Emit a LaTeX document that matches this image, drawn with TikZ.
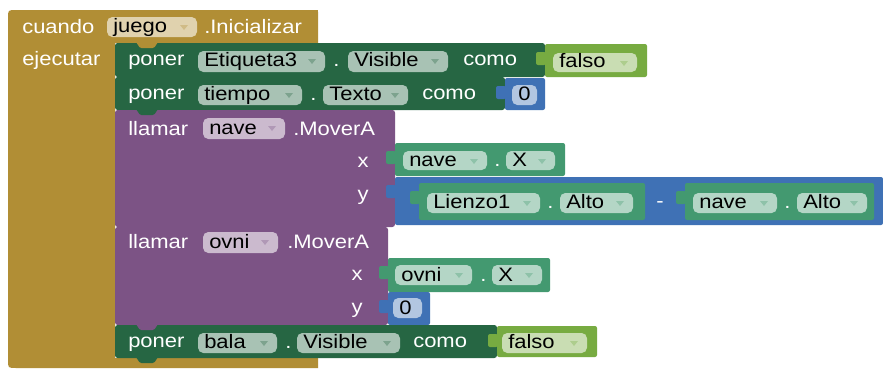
\documentclass[tikz,border=0pt]{standalone}
\usepackage{fontspec}
\setmainfont{Liberation Sans}[FakeStretch=1.13]
\definecolor{ev}{HTML}{B18E35}
\definecolor{setc}{HTML}{266643}
\definecolor{getc}{HTML}{439970}
\definecolor{logc}{HTML}{77AB41}
\definecolor{mathc}{HTML}{3F71B5}
\definecolor{meth}{HTML}{7C5385}
\tikzset{
  lbl/.style={text=white, inner sep=0pt, anchor=base west},
  clbl/.style={text=white, inner sep=0pt, anchor=base},
  ptxt/.style={text=black, inner sep=0pt, anchor=base west},
  stm/.style={rounded corners=2pt},
  vbody/.style={rounded corners=1.5pt},
}
% name, x1, x2, top, bottom, baseline, text, colour
\newcommand\pill[8]{%
  \fill[#8!40!white, rounded corners=4pt] (#2,#4) rectangle (#3,#5);
  \node[ptxt] (#1) at (#2+6,#6) {#7};
  \fill[#8!60!white] (#3-17,#4+8) -- (#3-9,#4+8) -- (#3-13,#4+13) -- cycle;}
\newcommand\numpill[8]{%
  \fill[#8!40!white, rounded corners=4pt] (#2,#4) rectangle (#3,#5);
  \node[ptxt] (#1) at (#2+6,#6) {#7};}
% x, top, colour
\newcommand\vtab[3]{%
  \fill[#3, rounded corners=1.5pt] (#1+1,#2+8) -- (#1-9,#2+8) -- (#1-9,#2+21) -- (#1+1,#2+21) -- cycle;}
% bottom y, colour
\newcommand\stab[2]{%
  \fill[#2, rounded corners=1pt] (136,#1-1) -- (140,#1+5) -- (154,#1+5) -- (158,#1-1) -- cycle;}
\begin{document}
\begin{tikzpicture}[x=0.75pt,y=-0.75pt]
\fontsize{14.6}{17}\selectfont
\useasboundingbox (0,0) rectangle (883,371);
\fill[white] (0,0) rectangle (883,371);
% event block
\fill[ev] (8,360) -- (8,18) .. controls (8,10) .. (16,10) -- (316,10) .. controls (318,10) .. (318,12)
  -- (318,43) -- (115,43) -- (115,358) -- (318,358) -- (318,368) -- (16,368) .. controls (8,368) .. (8,360) -- cycle;
\node[lbl] (cuando) at (22,33) {cuando};
\pill{juego}{107}{197}{17}{37}{32}{juego}{ev}
\node[lbl] (init) at (204,33) {.Inicializar};
\node[lbl] (ejec) at (22,65) {ejecutar};
% poner 1
\fill[setc, stm] (115,43) rectangle (545,77);
\node[lbl] (poner1) at (128,65) {poner};
\pill{etq}{198}{325}{51}{72}{66}{Etiqueta3}{setc}
\node[lbl] (dot1) at (333,66) {.};
\pill{vis1}{348}{448}{51}{72}{66}{Visible}{setc}
\node[lbl] (como1) at (463,65) {como};
\fill[logc, vbody] (545,44) rectangle (647,77);
\vtab{545}{44}{logc}
\pill{falso1}{553}{637}{53}{72}{67}{falso}{logc}
% poner 2
\fill[setc, stm] (115,77) rectangle (505,110);
\node[lbl] (poner2) at (128,99) {poner};
\pill{tiempo}{198}{302}{85}{105}{100}{tiempo}{setc}
\node[lbl] (dot2) at (310,100) {.};
\pill{texto}{323}{408}{85}{105}{100}{Texto}{setc}
\node[lbl] (como2) at (422,99) {como};
\fill[mathc, vbody] (505,78) rectangle (545,110);
\vtab{505}{78}{mathc}
\numpill{cero1}{512}{537}{85}{105}{100}{0}{mathc}
% llamar nave
\fill[meth, stm] (115,110) rectangle (395,227);
\node[lbl] (llamar1) at (128,135) {llamar};
\pill{nave1}{203}{285}{118}{139}{134}{nave}{meth}
\node[lbl] (mov1) at (293,135) {.MoverA};
\node[clbl] (x1) at (363,167) {x};
\node[clbl] (y1) at (363,200) {y};
\fill[getc, vbody] (395,143) rectangle (565,176);
\vtab{395}{143}{getc}
\pill{nave2}{403}{487}{151}{170}{166}{nave}{getc}
\node[lbl] (dot3) at (494,166) {.};
\pill{xx1}{506}{555}{151}{170}{166}{X}{getc}
\fill[mathc, vbody] (395,177) rectangle (883,225);
\vtab{395}{177}{mathc}
\fill[getc, vbody] (419,183) rectangle (645,220);
\vtab{419}{183}{getc}
\pill{lienzo}{427}{540}{193}{213}{208}{Lienzo1}{getc}
\node[lbl] (dot4) at (547,208) {.};
\pill{alto1}{560}{633}{193}{213}{208}{Alto}{getc}
\node[clbl] (minus) at (660,207) {-};
\fill[getc, vbody] (685,183) rectangle (874,220);
\vtab{685}{183}{getc}
\pill{nave3}{693}{777}{193}{213}{208}{nave}{getc}
\node[lbl] (dot5) at (784,208) {.};
\pill{alto2}{797}{867}{193}{213}{208}{Alto}{getc}
% llamar ovni
\fill[meth, stm] (115,227) rectangle (388,325);
\node[lbl] (llamar2) at (128,248) {llamar};
\pill{ovni1}{203}{278}{232}{253}{248}{ovni}{meth}
\node[lbl] (mov2) at (287,248) {.MoverA};
\node[clbl] (x2) at (357,280) {x};
\node[clbl] (y2) at (357,313) {y};
\fill[getc, vbody] (388,258) rectangle (550,292);
\vtab{388}{258}{getc}
\pill{ovni2}{395}{472}{265}{285}{281}{ovni}{getc}
\node[lbl] (dot6) at (480,281) {.};
\pill{xx2}{492}{542}{265}{285}{281}{X}{getc}
\fill[mathc, vbody] (388,292) rectangle (430,325);
\vtab{388}{292}{mathc}
\numpill{cero2}{393}{422}{298}{318}{314}{0}{mathc}
% poner bala
\fill[setc, stm] (115,325) rectangle (497,358);
\node[lbl] (poner3) at (128,347) {poner};
\pill{bala}{198}{277}{333}{353}{348}{bala}{setc}
\node[lbl] (dot7) at (285,348) {.};
\pill{vis2}{297}{400}{333}{353}{348}{Visible}{setc}
\node[lbl] (como3) at (413,347) {como};
\fill[logc, vbody] (497,326) rectangle (597,357);
\vtab{497}{326}{logc}
\pill{falso2}{502}{587}{333}{353}{348}{falso}{logc}
% statement tabs
\stab{43}{ev}
\stab{77}{setc}
\stab{110}{setc}
\stab{227}{meth}
\stab{325}{meth}
\stab{358}{setc}
\end{tikzpicture}
\end{document}
